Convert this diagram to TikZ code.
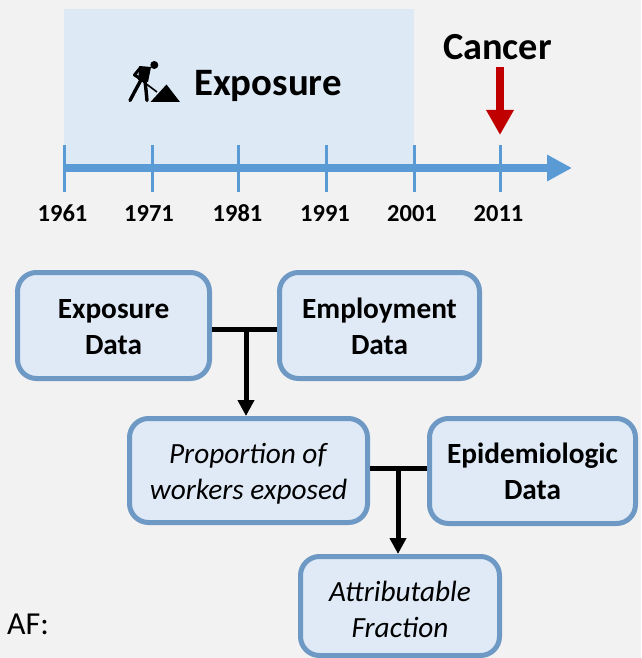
\documentclass[tikz,border=0pt]{standalone}
\usepackage{fontspec}
\setmainfont{Carlito}
\usetikzlibrary{arrows.meta}
\definecolor{bgc}{HTML}{F2F2F2}
\definecolor{boxfill}{HTML}{DFEAF6}
\definecolor{boxline}{HTML}{6E99C4}
\definecolor{axisc}{HTML}{5B9BD5}
\definecolor{band}{HTML}{DDE9F5}
\definecolor{redc}{HTML}{C00000}
\tikzset{
  flowbox/.style={draw=boxline,fill=boxfill,line width=5pt,rounded corners=19pt,align=center,inner sep=0pt,text height=60pt,text depth=3pt,font=\fontsize{29.3}{36}\selectfont},
  tick/.style={draw=axisc,line width=3pt},
  year/.style={font=\bfseries\fontsize{24.5}{28}\selectfont,inner sep=0pt},
  conn/.style={draw=black,line width=5pt},
  connarrow/.style={draw=black,line width=5pt,-{Triangle[length=16pt,width=16pt]}},
}
\begin{document}
\begin{tikzpicture}[x=1pt,y=-1pt]
\useasboundingbox (0,0) rectangle (641,658);
\fill[bgc] (0,0) rectangle (641,658);
% exposure band
\fill[band] (64,9) rectangle (414,168);
% axis
\coordinate (a0) at (64,168);
\coordinate (a1) at (572,168);
\draw[axisc,line width=8pt,-{Triangle[length=25pt,width=25pt]}] (a0) -- (a1);
\foreach \xx/\lx/\yy in {64/62.5/1961,152/149/1971,238/237.5/1981,326/325/1991,414/412/2001,500/498.5/2011}{
  \draw[tick] (\xx,145) -- (\xx,192);
  \node[year] (y\yy) at (\lx,213.5) {\yy};
}
% worker icon
\fill (154.3,65) circle (4);
\fill (139.5,66) -- (151,67) -- (148,82) -- (138,80) -- cycle;
\draw[line width=3pt,line join=round] (141,67) -- (134.5,75) -- (141,79);
\draw[line width=3.4pt,line join=round,line cap=round] (141,80) -- (135,91) -- (130,100.5);
\draw[line width=3.4pt,line join=round,line cap=round] (145,81) -- (146,90) -- (147,100.5);
\draw[line width=1.6pt] (137,77) -- (157,92);
\fill (150.5,102) -- (166.5,84.5) -- (180,102) -- cycle;
\node[anchor=west,inner sep=0pt,font=\bfseries\fontsize{38.8}{42}\selectfont] (expo) at (194,85.5) {Exposure};
% cancer
\node[inner sep=0pt,font=\bfseries\fontsize{38.3}{42}\selectfont] (cancer) at (497.5,47.5) {Cancer};
\coordinate (c0) at (500,67);
\coordinate (c1) at (500,135);
\draw[redc,line width=8pt,-{Triangle[length=25pt,width=26pt]}] (c0) -- (c1);
% boxes
\node[flowbox,minimum width=192pt,minimum height=106pt] (exposure) at (113.5,325.5) {\textbf{Exposure}\\\textbf{Data}};
\node[flowbox,minimum width=200pt,minimum height=106pt] (employment) at (379.5,325.5) {\textbf{Employment}\\\textbf{Data}};
\node[flowbox,minimum width=238pt,minimum height=104pt] (proportion) at (248.5,470.5) {\textit{Proportion of}\\\textit{workers exposed}};
\node[flowbox,minimum width=206pt,minimum height=105pt] (epi) at (532.5,471) {\textbf{Epidemiologic}\\\textbf{Data}};
\node[flowbox,minimum width=199pt,minimum height=99pt,text height=63pt,text depth=1pt] (af) at (400,606) {\textit{Attributable}\\\textit{Fraction}};
\node[anchor=west,inner sep=0pt,font=\fontsize{32}{34}\selectfont] (aflabel) at (7,624.5) {AF:};
% connectors
\coordinate (j1) at (246,329);
\coordinate (j2) at (398,468);
\draw[conn] (exposure.east |- j1) -- (employment.west |- j1);
\draw[connarrow] (j1) -- (j1 |- proportion.north);
\draw[conn] (proportion.east |- j2) -- (epi.west |- j2);
\draw[connarrow] (j2) -- (j2 |- af.north);
\end{tikzpicture}
\end{document}
